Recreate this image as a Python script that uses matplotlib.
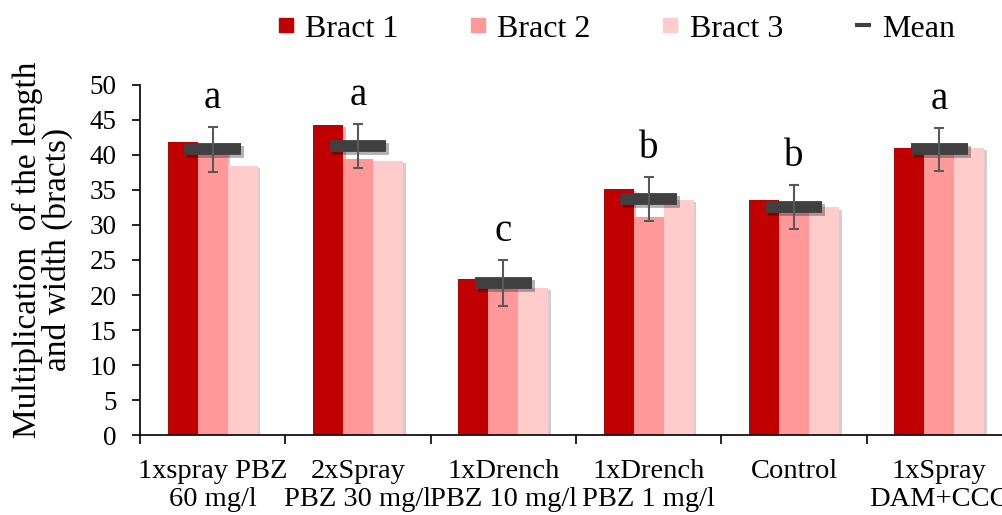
import numpy as np
import matplotlib as mpl
mpl.use('Agg')
import matplotlib.pyplot as plt
import matplotlib.patheffects as pe
from matplotlib.lines import Line2D

plt.rcParams['font.family'] = ['Liberation Serif', 'DejaVu Serif']

# values
treatments = ['1xspray PBZ\n60 mg/l', '2xSpray\nPBZ 30 mg/l', '1xDrench\nPBZ 10 mg/l',
              '1xDrench\nPBZ 1 mg/l', 'Control', '1xSpray\nDAM+CCC']
bract1 = [41.8, 44.3, 22.3, 35.2, 33.6, 41.0]
bract2 = [40.5, 39.4, 21.3, 31.1, 32.0, 40.5]
bract3 = [38.4, 39.1, 21.0, 33.6, 32.5, 41.0]
mean = [40.8, 41.3, 21.7, 33.7, 32.6, 40.8]
err = [3.2, 3.15, 3.25, 3.15, 3.15, 3.05]
letters = ['a', 'a', 'c', 'b', 'b', 'a']

colors = ['#C00000', '#FF9999', '#FFCCCC']
mean_color = '#404040'

x = np.arange(len(treatments))
w = 0.2065

fig = plt.figure(figsize=(10.02, 5.15), dpi=100)
ax = fig.add_axes([140/1002, 0.1553, 872/1002, 0.6797])

shadow = [pe.SimplePatchShadow(offset=(2, -1.5), alpha=0.25), pe.Normal()]
for i, vals in enumerate([bract1, bract2, bract3]):
    bars = ax.bar(x + (i - 1) * w, vals, width=w, color=colors[i], zorder=2)
    for b in bars:
        b.set_path_effects(shadow)

hl = ax.hlines(mean, x - 0.196, x + 0.196, colors=mean_color, linewidth=8.5, zorder=3)
hl.set_capstyle('butt')
hl.set_path_effects([pe.SimpleLineShadow(offset=(2, -2), alpha=0.3), pe.Normal()])

ax.errorbar(x, mean, yerr=err, fmt='none', ecolor='#595959', elinewidth=1.5,
            capsize=3.6, capthick=1.5, zorder=4)

for xi, m, e, t in zip(x, mean, err, letters):
    ax.text(xi, m + e + 2.7, t, ha='center', va='baseline', fontsize=28)

ax.set_xlim(-0.5, len(treatments) - 0.5)
ax.set_ylim(0, 50)
ax.set_yticks(np.arange(0, 51, 5))
ax.set_xticks(np.arange(-0.5, len(treatments), 1))
ax.set_xticklabels([])
ax.set_xticks(x, minor=True)
ax.set_xticklabels(treatments, minor=True)
ax.tick_params(axis='x', which='major', direction='out', length=6.5, width=1.2)
ax.tick_params(axis='x', which='minor', length=0, pad=17, labelsize=20.5)
ax.tick_params(axis='y', direction='out', length=6, width=1.2, pad=11, labelsize=19.5)
for s in ['top', 'right']:
    ax.spines[s].set_visible(False)
for s in ['left', 'bottom']:
    ax.spines[s].set_linewidth(1.2)

ax.set_ylabel('Multiplication  of the length\nand width (bracts)', fontsize=24, linespacing=0.95)
ax.yaxis.set_label_coords(-0.077, 0.529)

handles = [Line2D([], [], marker='s', linestyle='none', color=c, markersize=10) for c in colors]
handles.append(Line2D([], [], marker='_', linestyle='none', color=mean_color,
                      markersize=12, markeredgewidth=3))
fig.legend(handles, ['Bract 1', 'Bract 2', 'Bract 3', 'Mean'], loc='center',
           bbox_to_anchor=(614/1002, 0.944), ncol=4, frameon=False, fontsize=23,
           handletextpad=0.2, columnspacing=2.1, handlelength=0.8)

plt.savefig('out.png', dpi=100)
